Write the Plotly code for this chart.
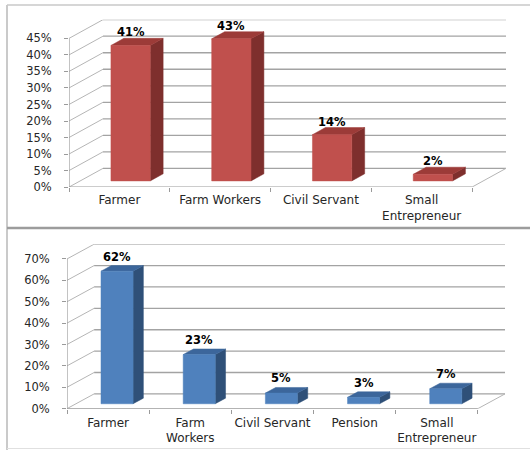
import plotly.graph_objects as go

W, H = 530, 457

# ---------------- data ----------------
top_categories = ["Farmer", "Farm Workers", "Civil Servant", "Small<br>Entrepreneur"]
top_values = [41, 43, 14, 2]
top_ticks = [0, 5, 10, 15, 20, 25, 30, 35, 40, 45]

bot_categories = ["Farmer", "Farm<br>Workers", "Civil Servant", "Pension", "Small<br>Entrepreneur"]
bot_values = [62, 23, 5, 3, 7]
bot_ticks = [0, 10, 20, 30, 40, 50, 60, 70]

# ---------------- style / geometry ----------------
FONT = "DejaVu Sans"
TXT = "#262626"
panels = [
    dict(cats=top_categories, vals=top_values, ticks=top_ticks, ymax=45,
         DX=0.337, DY=5.66, xs=(69, 506), ys=(20, 190),
         front="#C0504D", side="#7E2F2D", topc="#9C3B38", lab_shift=6, standoff=4),
    dict(cats=bot_categories, vals=bot_values, ticks=bot_ticks, ymax=70,
         DX=0.33, DY=6.9, xs=(67, 505), ys=(248, 415),
         front="#4F81BD", side="#2F5078", topc="#3C669B", lab_shift=9, standoff=5),
]
BAR_W = 0.39
D0, D1 = 0.33, 0.71

fig = go.Figure()
annotations = []
layout = {}

for k, p in enumerate(panels):
    xa = "x" if k == 0 else "x2"
    ya = "y" if k == 0 else "y2"
    n = len(p["cats"])
    DX, DY = p["DX"], p["DY"]

    def proj(x, y, d):
        return x + d * DX, y + d * DY

    # walls: horizontal back lines and diagonal side lines
    bx, by, dxs, dys = [], [], [], []
    for t in p["ticks"]:
        x1, y1 = proj(0, t, 1)
        x2, y2 = proj(n, t, 1)
        bx += [x1, x2, None]
        by += [y1, y2, None]
        dxs += [0, x1, None]
        dys += [t, y1, None]
    fx, fy = proj(n, 0, 1)
    dxs += [n, fx, None]
    dys += [0, fy, None]
    fig.add_trace(go.Scatter(x=bx, y=by, mode="lines", line=dict(color="#A3A3A3", width=1.3),
                             hoverinfo="skip", showlegend=False, xaxis=xa, yaxis=ya))
    fig.add_trace(go.Scatter(x=dxs, y=dys, mode="lines", line=dict(color="#B5B5B5", width=1),
                             hoverinfo="skip", showlegend=False, xaxis=xa, yaxis=ya))
    fig.add_trace(go.Scatter(x=[0, 0, None, 0, n], y=[p["ymax"], 0, None, 0, 0], mode="lines",
                             line=dict(color="#9A9A9A", width=1.2),
                             hoverinfo="skip", showlegend=False, xaxis=xa, yaxis=ya))

    # bars as 3D boxes
    fxs, fys, sxs, sys_, txs, tys = [], [], [], [], [], []
    for i, v in enumerate(p["vals"]):
        x0 = i + 0.5 - BAR_W / 2
        x1 = i + 0.5 + BAR_W / 2
        pts = [proj(x0, 0, D0), proj(x1, 0, D0), proj(x1, v, D0), proj(x0, v, D0), proj(x0, 0, D0)]
        fxs += [q[0] for q in pts] + [None]
        fys += [q[1] for q in pts] + [None]
        pts = [proj(x1, 0, D0), proj(x1, 0, D1), proj(x1, v, D1), proj(x1, v, D0), proj(x1, 0, D0)]
        sxs += [q[0] for q in pts] + [None]
        sys_ += [q[1] for q in pts] + [None]
        pts = [proj(x0, v, D0), proj(x1, v, D0), proj(x1, v, D1), proj(x0, v, D1), proj(x0, v, D0)]
        txs += [q[0] for q in pts] + [None]
        tys += [q[1] for q in pts] + [None]
        lx, _ = proj(i + 0.5, v, D0)
        _, ly = proj(i + 0.5, v, D1)
        annotations.append(dict(x=lx, y=ly, xref=xa, yref=ya, text=f"<b>{v}%</b>",
                                showarrow=False, yanchor="middle", yshift=p["lab_shift"],
                                font=dict(family=FONT, size=11.5, color="#000000")))
    for xs_, ys_, col in [(sxs, sys_, p["side"]), (txs, tys, p["topc"]), (fxs, fys, p["front"])]:
        fig.add_trace(go.Scatter(x=xs_, y=ys_, mode="lines", fill="toself", fillcolor=col,
                                 line=dict(color=col, width=0.5), hoverinfo="skip",
                                 showlegend=False, xaxis=xa, yaxis=ya))

    xname = "xaxis" if k == 0 else "xaxis2"
    yname = "yaxis" if k == 0 else "yaxis2"
    layout[xname] = dict(
        domain=[p["xs"][0] / W, p["xs"][1] / W], range=[0, n + DX],
        tickvals=[i + 0.5 for i in range(n)], ticktext=p["cats"], ticks="",
        showgrid=False, zeroline=False, showline=False, anchor=ya,
        tickfont=dict(family=FONT, size=12, color=TXT), ticklabelstandoff=p["standoff"],
        minor=dict(tickvals=list(range(n + 1)), ticks="outside", ticklen=4,
                   tickcolor="#9A9A9A", tickwidth=1),
        fixedrange=True,
    )
    layout[yname] = dict(
        domain=[1 - p["ys"][1] / H, 1 - p["ys"][0] / H], range=[0, p["ymax"] + DY],
        tickvals=p["ticks"], ticktext=[f"{t}%" for t in p["ticks"]],
        ticks="outside", ticklen=4, tickcolor="#9A9A9A",
        showgrid=False, zeroline=False, showline=False, anchor=xa,
        tickfont=dict(family=FONT, size=11.5, color=TXT), ticklabelstandoff=10,
        fixedrange=True,
    )

def px(x):
    return x / W

def py(y):
    return 1 - y / H

shapes = [
    dict(type="line", xref="paper", yref="paper", x0=px(7), x1=px(7), y0=py(5), y1=py(457),
         line=dict(color="#B8B8B8", width=1.5)),
    dict(type="line", xref="paper", yref="paper", x0=px(7), x1=px(530), y0=py(5), y1=py(5),
         line=dict(color="#C8C8C8", width=1.5)),
    dict(type="line", xref="paper", yref="paper", x0=px(7), x1=px(530), y0=py(231.5), y1=py(231.5),
         line=dict(color="#9C9C9C", width=2.5)),
    dict(type="line", xref="paper", yref="paper", x0=px(7), x1=px(530), y0=py(455.5), y1=py(455.5),
         line=dict(color="#E0E0E0", width=1)),
]

fig.update_layout(
    width=W, height=H, margin=dict(l=0, r=0, t=0, b=0),
    paper_bgcolor="white", plot_bgcolor="rgba(0,0,0,0)",
    showlegend=False, annotations=annotations, shapes=shapes,
    font=dict(family=FONT, size=11, color=TXT),
    **layout,
)

fig.write_html(
    "out.html",
    config={"displayModeBar": False},
    post_script=("document.documentElement.style.overflow='hidden';"
                 "document.body.style.margin='0px';"
                 "document.body.style.overflow='hidden';"),
)
